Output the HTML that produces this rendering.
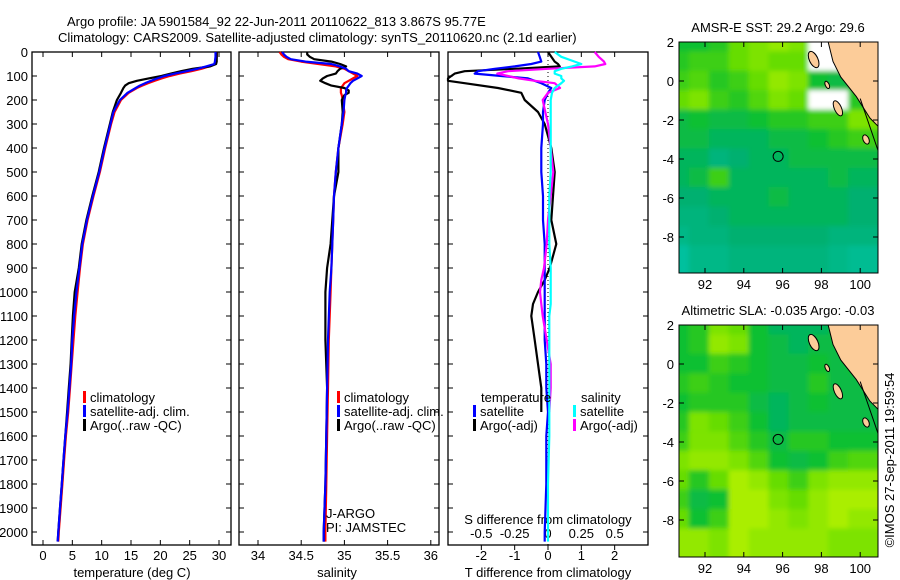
<!DOCTYPE html>
<html><head><meta charset="utf-8"><style>
body{margin:0;background:#fff}
svg{display:block;font-family:"Liberation Sans",sans-serif}
text{font-size:13px;fill:#000}
</style></head><body>
<svg id="s" width="900" height="580" viewBox="0 0 900 580">
<defs>
<filter id="bl" x="0" y="0" width="1" height="1"><feGaussianBlur stdDeviation="2.5"/></filter>
<clipPath id="c1"><rect x="679" y="42" width="199" height="231"/></clipPath>
<clipPath id="c2"><rect x="679" y="325" width="199" height="232"/></clipPath>
</defs>
<text x="67" y="26">Argo profile: JA 5901584_92 22-Jun-2011 20110622_813 3.867S 95.77E</text>
<text x="58" y="42">Climatology: CARS2009. Satellite-adjusted climatology: synTS_20110620.nc (2.1d earlier)</text>
<g id="g"></g>
</svg>
<script>
const depthTicks=[0,100,200,300,400,500,600,700,800,900,1000,1100,1200,1300,1400,1500,1600,1700,1800,1900,2000];
const tempTicks=[0,5,10,15,20,25,30];
const salTicks=[34,34.5,35,35.5,36];
const diffTTicks=[-2,-1,0,1,2];
const diffSTicks=[-0.5,-0.25,0,0.25,0.5];
const diffSLabels=["-0.5","-0.25","0","0.25","0.5"];
const tDepth=[0,20,40,50,60,70,80,90,100,110,120,130,140,150,170,200,250,300,400,500,600,700,800,900,1000,1100,1200,1300,1400,1500,1600,1700,1800,1900,2000,2040];
const tClim=[29.6,29.6,29.5,29.4,28.3,27.0,25.3,23.3,21.6,20.2,19.0,17.9,16.9,16.0,14.6,13.3,12.2,11.6,10.6,9.7,8.6,7.6,6.8,6.3,5.9,5.5,5.2,4.9,4.6,4.3,3.9,3.6,3.3,3.0,2.7,2.6];
const tSat=[29.4,29.4,29.3,29.2,27.8,26.3,24.5,22.5,20.7,19.5,18.4,17.4,16.5,15.8,14.4,13.1,12.0,11.5,10.5,9.6,8.5,7.5,6.7,6.2,5.7,5.3,5.0,4.8,4.5,4.2,3.8,3.5,3.2,2.9,2.6,2.5];
const tArgo=[29.6,29.6,29.6,29.5,28.5,25.5,23.5,21.8,20.2,18.0,16.0,14.6,14.0,13.7,13.3,12.6,11.9,11.4,10.4,9.5,8.4,7.4,6.6,6.1,5.4,5.1,4.9,4.7,4.4,4.1,3.8,3.5,3.2,2.9,2.6,2.5];
const sDepth=[0,10,20,30,40,50,60,70,80,90,100,110,120,130,140,150,160,170,180,200,250,300,400,500,600,700,800,900,1000,1200,1400,1600,1800,2000,2040];
const sClim=[34.25,34.27,34.3,34.35,34.5,34.7,34.9,35.0,35.05,35.1,35.15,35.1,35.05,35.0,34.98,34.96,34.96,34.96,34.97,34.98,35.0,34.98,34.93,34.9,34.88,34.87,34.86,34.85,34.84,34.82,34.81,34.8,34.79,34.78,34.78];
const sSat=[34.28,34.3,34.33,34.38,34.55,34.85,34.95,35.02,35.05,35.15,35.2,35.15,35.1,35.07,35.05,35.03,35.02,35.02,35.01,35.0,34.99,34.97,34.93,34.9,34.88,34.87,34.86,34.85,34.83,34.81,34.8,34.79,34.78,34.76,34.76];
const sArgo=[34.57,34.57,34.6,34.65,34.85,34.95,35.02,34.95,34.92,34.9,34.8,34.75,34.72,34.78,34.85,35.0,35.05,35.05,35.0,34.97,34.98,34.97,34.93,34.93,34.88,34.86,34.84,34.8,34.78,34.78,34.8,34.79,34.78,34.76,34.76];
const dDepth=[0,20,40,50,60,70,80,90,100,110,120,130,150,170,200,250,300,400,500,600,700,800,900,950,1000,1050,1100,1200,1300,1400,1500,1600,1800,2000,2040];
const dTSat=[-0.3,-0.25,-0.2,-0.5,-1.0,-1.6,-2.1,-2.2,-1.4,-0.6,-0.4,-0.2,0.1,0.0,-0.1,-0.15,-0.15,-0.2,-0.2,-0.15,-0.15,-0.1,-0.1,-0.1,-0.1,-0.1,-0.1,-0.1,-0.05,-0.05,0,-0.05,-0.05,-0.1,-0.1];
const dTArgo=[0,0.1,0.2,0.3,0.35,-1.0,-2.5,-2.8,-2.9,-3.0,-3.0,-2.5,-1.5,-0.8,-0.7,-0.3,-0.1,0.1,0.2,0.15,0.1,0.25,0.05,-0.1,-0.3,-0.45,-0.5,-0.4,-0.3,-0.2,-0.2,null,null,null,null];
const dSSat=[0.05,0.1,0.2,0.25,0.18,0.1,0.05,0.05,0.1,0.1,0.12,0.1,0.05,0.03,0.02,0.02,0.02,0.02,0.02,0.01,0.01,0.01,0.02,0.02,0.02,0.02,0.01,0.01,0.01,0.01,0.01,0.01,0.0,0.0,0.0];
const dSArgo=[0.35,0.38,0.42,0.43,0.35,0.0,-0.3,-0.38,-0.3,-0.22,-0.1,0.05,0.09,0.0,-0.04,-0.02,0.0,0.02,0.04,0.02,0.0,-0.01,-0.03,-0.05,-0.06,-0.05,-0.04,-0.01,0.02,0.02,0.01,null,null,null,null];
const latTicks=[2,0,-2,-4,-6,-8];
const lonTicks=[92,94,96,98,100];
const sstGrid=[
[.5,.5,.55,.7,.75,.8,.75,-1,-1,.5],
[.55,.6,.6,.7,.75,.7,.7,-1,-1,.5],
[.6,.65,.55,.6,.7,.8,.75,.5,.45,.5],
[.7,.75,.6,.55,.65,.75,.7,-1,-1,.55],
[.45,.5,.45,.45,.5,.55,.55,.6,.6,.75],
[.45,.45,.4,.4,.4,.45,.45,.5,.55,.6],
[.4,.4,.3,.35,.4,.4,.45,.45,.45,.45],
[.4,.45,.6,.4,.4,.4,.4,.4,.45,.4],
[.35,.35,.4,.4,.4,.45,.4,.4,.4,.35],
[.3,.3,.35,.4,.4,.4,.4,.4,.4,.35],
[.25,.3,.3,.35,.35,.35,.35,.35,.3,.3],
[.15,.25,.25,.3,.3,.3,.3,.3,.25,.2]];
const slaGrid=[
[.5,.55,.75,.7,.5,.4,.4,.4,.45,.45],
[.5,.55,.8,.75,.5,.45,.4,.45,.45,.45],
[.5,.5,.6,.55,.5,.45,.45,.5,.45,.5],
[.55,.6,.55,.5,.5,.45,.45,.55,.45,.45],
[.5,.55,.55,.55,.45,.4,.45,.5,.45,.45],
[.55,.75,.7,.6,.5,.4,.45,.45,.45,.45],
[.6,.75,.75,.65,.55,.45,.55,.55,.5,.5],
[.75,.8,.8,.75,.65,.5,.45,.5,.6,.65],
[.7,.55,.7,.85,.8,.7,.6,.75,.8,.8],
[.6,.45,.5,.85,.85,.75,.7,.8,.85,.85],
[.7,.5,.6,.85,.85,.8,.75,.8,.85,.8],
[.8,.8,.75,.85,.8,.8,.8,.8,.75,.75]];
const coastLon=[98.3,98.6,99.0,99.8,100.5,101.2,101.2];
const coastLat=[2.2,1,0.2,-0.8,-1.9,-2.6,2.2];
const argoLon=95.77, argoLat=-3.867;

const NS='http://www.w3.org/2000/svg';
const G=document.getElementById('g');
function mk(t,a,p){const e=document.createElementNS(NS,t);for(const k in a)e.setAttribute(k,a[k]);(p||G).appendChild(e);return e;}
const yD=d=>52+d*0.24;
const xT=t=>43+t*5.867;
const xS=s=>258+(s-34)*86.4;
const xDT=t=>548+t*33.33;
const xDS=s=>548+s*133.3;
function line(xs,ds,fx,col,name){let p='';let pen=false;
 for(let i=0;i<xs.length;i++){if(xs[i]===null){pen=false;continue;}p+=(pen?'L':'M')+fx(xs[i]).toFixed(1)+' '+yD(ds[i]).toFixed(1);pen=true;}
 const e=mk('path',{d:p,fill:'none',stroke:col,'stroke-width':2.2,'stroke-linejoin':'round'});
 
 }
function txt(x,y,s,anc,name,extra){const e=mk('text',Object.assign({x:x,y:y,'text-anchor':anc||'start'},extra||{}));e.textContent=s;
 
 return e;}
function frame(x0,x1,name){const e=mk('rect',{x:x0,y:52,width:x1-x0,height:493,fill:'none',stroke:'#000','stroke-width':1.3});
 
 
 depthTicks.forEach(d=>{mk('line',{x1:x0,x2:x0+5,y1:yD(d),y2:yD(d),stroke:'#000'});mk('line',{x1:x1,x2:x1-5,y1:yD(d),y2:yD(d),stroke:'#000'});});}
// panel 1
frame(32,231,'temperature-panel');
depthTicks.forEach(d=>txt(28,yD(d)+5,String(d),'end','depth-tick-label'));
tempTicks.forEach(t=>{mk('line',{x1:xT(t),x2:xT(t),y1:545,y2:540,stroke:'#000'});mk('line',{x1:xT(t),x2:xT(t),y1:52,y2:57,stroke:'#000'});txt(xT(t),560,String(t),'middle','temperature-tick-label');});
txt(132,577,'temperature (deg C)','middle','x-axis-title-temperature');
line(tClim,tDepth,xT,'#f00','temp-climatology-line');
line(tArgo,tDepth,xT,'#000','temp-argo-line');
line(tSat,tDepth,xT,'#00f','temp-satellite-line');
function legend(x,y,cols,labels,pre){cols.forEach((c,i)=>{const r=mk('rect',{x:x,y:y+i*14-11,width:3,height:12,fill:c});
 
 
 txt(x+7,y+i*14,labels[i],'start',pre+'-legend-label');});}
legend(83,402,['#f00','#00f','#000'],['climatology','satellite-adj. clim.','Argo(..raw -QC)'],'temp');
// panel 2
frame(239,439,'salinity-panel');
salTicks.forEach(s=>{mk('line',{x1:xS(s),x2:xS(s),y1:545,y2:540,stroke:'#000'});mk('line',{x1:xS(s),x2:xS(s),y1:52,y2:57,stroke:'#000'});txt(xS(s),560,String(s),'middle','salinity-tick-label');});
txt(337,577,'salinity','middle','x-axis-title-salinity');
line(sClim,sDepth,xS,'#f00','sal-climatology-line');
line(sArgo,sDepth,xS,'#000','sal-argo-line');
line(sSat,sDepth,xS,'#00f','sal-satellite-line');
legend(337,402,['#f00','#00f','#000'],['climatology','satellite-adj. clim.','Argo(..raw -QC)'],'sal');
txt(326,518,'J-ARGO','start','data-centre-label');
txt(326,532,'PI: JAMSTEC','start','pi-label');
// panel 3
frame(448,648,'difference-panel');
mk('line',{x1:548,x2:548,y1:52,y2:545,stroke:'#000','stroke-dasharray':'1 3'});
diffTTicks.forEach(t=>{mk('line',{x1:xDT(t),x2:xDT(t),y1:545,y2:550,stroke:'#000'});txt(xDT(t),560,String(t),'middle','t-diff-tick-label');});
diffSTicks.forEach((s,i)=>{mk('line',{x1:xDS(s),x2:xDS(s),y1:52,y2:57,stroke:'#000'});txt(xDS(s),538,diffSLabels[i],'middle','s-diff-tick-label');});
txt(548,524,'S difference from climatology','middle','s-diff-axis-title');
txt(548,577,'T difference from climatology','middle','t-diff-axis-title');
line(dTArgo,dDepth,xDT,'#000','t-diff-argo-line');
line(dTSat,dDepth,xDT,'#00f','t-diff-satellite-line');
line(dSArgo,dDepth,xDS,'#f0f','s-diff-argo-line');
line(dSSat,dDepth,xDS,'#0ff','s-diff-satellite-line');
txt(481,402,'temperature','start','temp-legend-heading');
txt(581,402,'salinity','start','sal-legend-heading');
legend(473,416,['#00f','#000'],['satellite','Argo(-adj)'],'tdiff');
legend(573,416,['#0ff','#f0f'],['satellite','Argo(-adj)'],'sdiff');
// maps
const stops=[[0,[0,204,192]],[.35,[0,176,112]],[.5,[17,192,48]],[.7,[102,221,0]],[.85,[170,238,0]],[1,[221,238,0]]];
function cmap(v){if(v<0)return '#fff';for(let i=1;i<stops.length;i++){if(v<=stops[i][0]){const a=stops[i-1],b=stops[i],f=(v-a[0])/(b[0]-a[0]);return 'rgb('+a[1].map((c,k)=>Math.round(c+(b[1][k]-c)*f)).join(',')+')';}}return 'rgb(221,238,0)';}
function map(top,grid,clip,title,name){
 const lonX=l=>705+(l-92)*19.4, latY=a=>top+(2-a)*19.5;
 txt(778,top-10,title,'middle',name+'-title');
 const g=mk('g',{'clip-path':'url(#'+clip+')'});
 const gb=mk('g',{filter:'url(#bl)'},g);
 grid.forEach((row,r)=>row.forEach((v,c)=>{const e=mk('rect',{x:679+c*19.9-10,y:top+r*19.4-10,width:20.9+20*(c==0||c==9),height:20.4+20*(r==0||r==11),fill:cmap(v)},gb);
  
  }));
 let p='';coastLon.forEach((l,i)=>p+=(i?'L':'M')+lonX(l).toFixed(1)+' '+latY(coastLat[i]).toFixed(1));
 const land=mk('path',{d:p+'Z',fill:'#fccc99',stroke:'#000','stroke-width':1},g);
 
 
 [[97.6,1.1,0.22,0.45],[98.85,-1.4,0.18,0.42],[98.3,-0.2,0.1,0.2],[100.3,-3.0,0.15,0.25]].forEach(a=>mk('ellipse',{cx:lonX(a[0]),cy:latY(a[1]),rx:a[2]*19.4,ry:a[3]*19.4,fill:'#fccc99',stroke:'#000',transform:'rotate(-25 '+lonX(a[0])+' '+latY(a[1])+')'},g));
 mk('line',{x1:lonX(100),y1:latY(-0.9),x2:lonX(101),y2:latY(-3.8),stroke:'#000'},g);
 const ci=mk('circle',{cx:lonX(argoLon),cy:latY(argoLat),r:5,fill:'none',stroke:'#000','stroke-width':1});
 
 
 const h=grid===slaGrid?232:231;
 const fr=mk('rect',{x:679,y:top,width:199,height:h,fill:'none',stroke:'#000'});
 
 
 latTicks.forEach(a=>{mk('line',{x1:679,x2:684,y1:latY(a),y2:latY(a),stroke:'#000'});mk('line',{x1:878,x2:873,y1:latY(a),y2:latY(a),stroke:'#000'});txt(674,latY(a)+5,String(a),'end',name+'-lat-label');});
 lonTicks.forEach(l=>{mk('line',{x1:lonX(l),x2:lonX(l),y1:top,y2:top+5,stroke:'#000'});mk('line',{x1:lonX(l),x2:lonX(l),y1:top+h,y2:top+h-5,stroke:'#000'});txt(lonX(l),top+h+16,String(l),'middle',name+'-lon-label');});
}
map(42,sstGrid,'c1','AMSR-E SST: 29.2 Argo: 29.6','sst-map');
map(325,slaGrid,'c2','Altimetric SLA: -0.035 Argo: -0.03','sla-map');
txt(0,0,'©IMOS 27-Sep-2011 19:59:54','middle','timestamp-credit',{transform:'translate(894,460) rotate(-90)'});
</script>
</body></html>
